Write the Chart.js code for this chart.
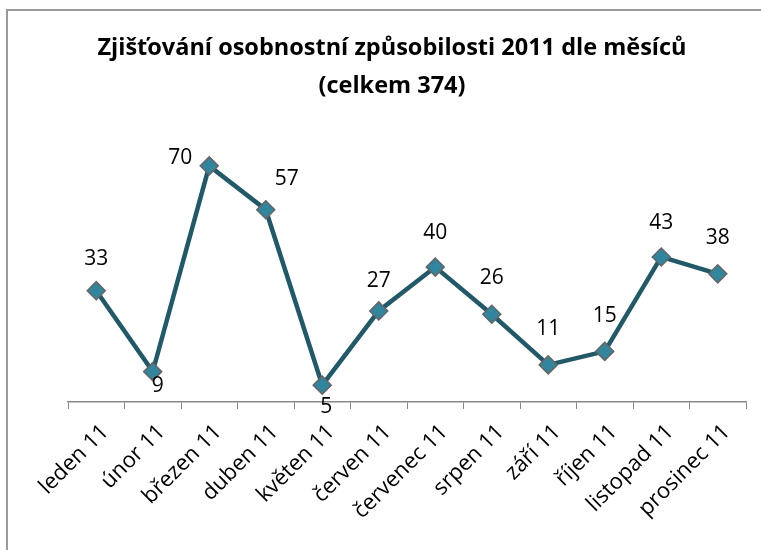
<!DOCTYPE html>
<html>
<head>
<meta charset="utf-8">
<script src="https://cdn.jsdelivr.net/npm/chart.js@4"></script>
<style>
  body { margin: 0; background: #fff; }
  #obal { position: relative; width: 761px; height: 550px; }
  #ramecek {
    position: absolute; left: 6px; top: 9px; right: 0; bottom: 0;
    border-left: 2px solid #9a9a9a; border-top: 2px solid #9a9a9a;
  }
  canvas { position: absolute; left: 0; top: 0; }
</style>
</head>
<body>
<div id="obal">
  <div id="ramecek"></div>
  <canvas id="graf" width="761" height="550"></canvas>
</div>
<script>
// popisky měsíců a počty
const mesice = ["leden 11", "únor 11", "březen 11", "duben 11", "květen 11", "červen 11",
  "červenec 11", "srpen 11", "září 11", "říjen 11", "listopad 11", "prosinec 11"];
const pocty = [33, 9, 70, 57, 5, 27, 40, 26, 11, 15, 43, 38];
const nadpis = ["Zjišťování osobnostní způsobilosti 2011 dle měsíců", "(celkem 374)"];

// posun popisků hodnot vůči bodu (dx, dy)
const posunPopisku = [[0, -32], [5, 14], [-29, -8], [21, -31], [4, 22], [0, -30],
  [0, -34], [0, -36], [0, -36], [0, -35], [0, -34], [0, -36]];

const popiskyHodnot = {
  id: "popiskyHodnot",
  afterDatasetsDraw(chart) {
    const ctx = chart.ctx;
    const meta = chart.getDatasetMeta(0);
    ctx.save();
    ctx.font = "21px 'Open Sans'";
    ctx.fillStyle = "#000";
    ctx.textAlign = "center";
    ctx.textBaseline = "middle";
    meta.data.forEach((bod, i) => {
      const p = posunPopisku[i];
      ctx.fillText(chart.data.datasets[0].data[i], bod.x + p[0], bod.y + p[1]);
    });
    ctx.restore();
  }
};

new Chart(document.getElementById("graf"), {
  type: "line",
  data: {
    labels: mesice,
    datasets: [{
      data: pocty,
      borderColor: "#215968",
      borderWidth: 4.5,
      pointStyle: "rectRot",
      pointRadius: 9,
      pointBackgroundColor: "#31859c",
      pointBorderColor: "#666",
      pointBorderWidth: 1.5,
      tension: 0,
      clip: false
    }]
  },
  options: {
    responsive: false,
    animation: false,
    layout: { padding: { left: 38, right: 15, top: 0, bottom: 0 } },
    plugins: {
      legend: { display: false },
      tooltip: { enabled: false },
      title: {
        display: true,
        text: nadpis,
        color: "#000",
        font: { family: "'Open Sans'", size: 23.5, weight: "bold", lineHeight: 1.62 },
        padding: { top: 29, bottom: 27 }
      }
    },
    scales: {
      x: {
        offset: true,
        grid: { display: true, drawOnChartArea: false, drawTicks: true, tickLength: 7, color: "#888", offset: true },
        border: { color: "#888", width: 1.5 },
        ticks: {
          color: "#000",
          font: { family: "'Open Sans'", size: 22 },
          minRotation: 45,
          maxRotation: 45,
          autoSkip: false,
          padding: 10,
          labelOffset: 9
        },
        afterFit(scale) { scale.height = 148; }
      },
      y: {
        display: true,
        min: 0,
        max: 80,
        grid: { display: false },
        border: { display: false },
        ticks: { display: false },
        afterFit(scale) { scale.width = 30; }
      }
    }
  },
  plugins: [popiskyHodnot]
});
</script>
</body>
</html>
